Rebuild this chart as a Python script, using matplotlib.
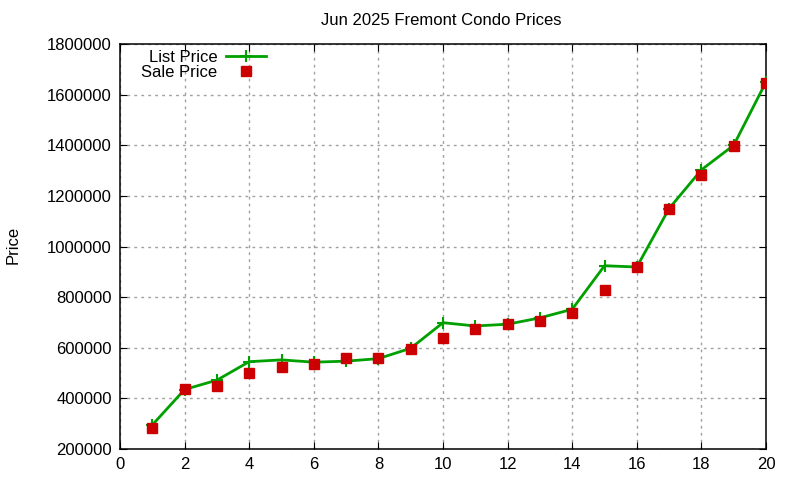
import matplotlib
matplotlib.use("Agg")
import matplotlib.pyplot as plt

plt.rcParams['font.family'] = ['Liberation Sans', 'DejaVu Sans']

rank = list(range(1, 21))
list_price = [295000, 435000, 472000, 545000, 552000, 543000, 547000, 557000, 598000, 699000,
              686000, 693000, 718000, 752000, 924000, 919000, 1150000, 1303000, 1400000, 1650000]
sale_price = [283000, 437000, 450000, 501000, 525000, 537000, 560000, 558000, 595000, 640000,
              673000, 695000, 706000, 738000, 829000, 919000, 1149000, 1284000, 1398000, 1647000]
xticks = list(range(0, 21, 2))
yticks = list(range(200000, 1800001, 200000))

fig = plt.figure(figsize=(8, 4.8), dpi=100)
ax = fig.add_axes([0.15, 0.0646, 0.8075, 0.8437])

ax.plot(rank, list_price, "-", marker="+", color="#00a000", lw=2, ms=9, mew=1.5,
        label="List Price", zorder=3)
ax.plot(rank, sale_price, "s", color="#cc0000", ms=6.5, lw=0,
        label="Sale Price", zorder=4)

ax.set_xlim(0, 20)
ax.set_ylim(200000, 1800000)
ax.set_xticks(xticks)
ax.set_yticks(yticks)
ax.set_yticklabels([str(v) for v in yticks])
ax.tick_params(direction="in", top=True, right=True, labelsize=12, length=5, pad=6)
ax.grid(True, color="#a0a0a0", linestyle=(0, (2, 3)), lw=1)
for s in ax.spines.values():
    s.set_linewidth(1.1)

fig.text(0.551, 0.958, "Jun 2025 Fremont Condo Prices", ha="center", va="center", fontsize=12)
fig.text(0.016, 0.49, "Price", rotation=90, ha="center", va="center", fontsize=12)

leg = ax.legend(loc="upper left", bbox_to_anchor=(0.0145, 1.015), markerfirst=False,
                frameon=False, fontsize=12, handlelength=2.4, labelspacing=0.0,
                borderaxespad=0.3, handletextpad=0.55)
for t in leg.get_texts():
    t.set_ha("right")
leg._legend_box.align = "right"

fig.savefig("out.png")
